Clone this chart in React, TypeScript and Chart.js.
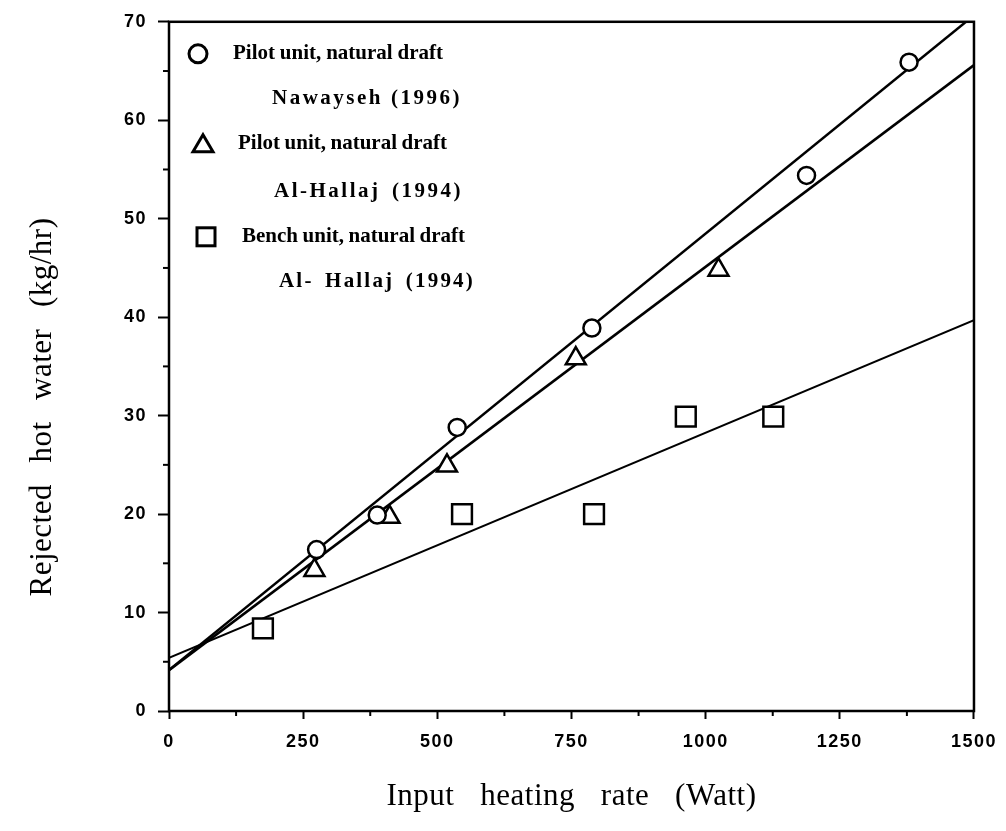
import React, { useEffect, useRef } from 'react';
import { Chart, registerables } from 'chart.js';

Chart.register(...registerables);

// ---- data ----
const nawaysehX = [275, 388, 537, 788, 1188, 1379];
const nawaysehY = [16.4, 19.9, 28.8, 38.9, 54.4, 65.9];

const hallajPilotX = [271, 411, 518, 758, 1024];
const hallajPilotY = [14.3, 19.7, 24.9, 35.8, 44.8];

const hallajBenchX = [175, 546, 792, 963, 1126];
const hallajBenchY = [8.4, 20.0, 20.0, 29.9, 29.9];

// fitted straight lines (end points at x = 0 and x = 1500)
const fitX = [0, 1500];
const fitNawaysehY = [4.15, 70.66];
const fitHallajPilotY = [4.15, 65.6];
const fitHallajBenchY = [5.4, 39.7];

const xTickLabels = [0, 250, 500, 750, 1000, 1250, 1500];
const yTickLabels = [0, 10, 20, 30, 40, 50, 60, 70];

const legendLines = [
  'Pilot unit, natural draft',
  'Nawayseh (1996)',
  'Pilot unit, natural draft',
  'Al-Hallaj (1994)',
  'Bench unit, natural draft',
  'Al- Hallaj (1994)',
];

const xTitle = 'Input heating rate (Watt)';
const yTitle = 'Rejected hot water (kg/hr)';

const toPoints = (xs: number[], ys: number[]) => xs.map((x, i) => ({ x, y: ys[i] }));

function fitText(ctx: CanvasRenderingContext2D, text: string, x: number, y: number, width: number, ls: number) {
  (ctx as any).letterSpacing = ls + 'px';
  (ctx as any).wordSpacing = '0px';
  const w = ctx.measureText(text).width;
  const gaps = (text.match(/ /g) || []).length;
  const ws = gaps ? (width - w) / gaps : 0;
  (ctx as any).wordSpacing = ws + 'px';
  ctx.fillText(text, x, y);
  (ctx as any).wordSpacing = '0px';
  (ctx as any).letterSpacing = '0px';
}

const decorPlugin = {
  id: 'decor',
  beforeDraw(chart: any) {
    (chart.ctx as any).letterSpacing = '1.5px';
  },
  beforeDatasetsDraw(chart: any) {
    (chart.ctx as any).letterSpacing = '0px';
  },
  afterDraw(chart: any) {
    const ctx: CanvasRenderingContext2D = chart.ctx;
    const a = chart.chartArea;
    ctx.save();
    (ctx as any).letterSpacing = '0px';
    // frame
    ctx.strokeStyle = '#000';
    ctx.lineWidth = 2.5;
    ctx.strokeRect(a.left, a.top, a.right - a.left, a.bottom - a.top);

    // minor ticks
    ctx.lineWidth = 2;
    const xs = chart.scales.x;
    const ys = chart.scales.y;
    xs.ticks.forEach((t: any) => {
      if (xTickLabels.includes(t.value)) return;
      const px = xs.getPixelForValue(t.value);
      ctx.beginPath();
      ctx.moveTo(px, a.bottom);
      ctx.lineTo(px, a.bottom + 5);
      ctx.stroke();
    });
    ys.ticks.forEach((t: any) => {
      if (yTickLabels.includes(t.value)) return;
      const py = ys.getPixelForValue(t.value);
      ctx.beginPath();
      ctx.moveTo(a.left, py);
      ctx.lineTo(a.left - 6, py);
      ctx.stroke();
    });

    // legend
    const L = a.left;
    const T = a.top;
    ctx.fillStyle = '#000';
    ctx.strokeStyle = '#000';
    ctx.lineWidth = 3;
    // circle
    ctx.beginPath();
    ctx.arc(L + 29, T + 32, 9, 0, Math.PI * 2);
    ctx.stroke();
    // triangle
    const tx = L + 34, ty = T + 122, tr = 10;
    ctx.beginPath();
    ctx.moveTo(tx, ty - tr * 0.9);
    ctx.lineTo(tx + tr, ty + tr * 0.8);
    ctx.lineTo(tx - tr, ty + tr * 0.8);
    ctx.closePath();
    ctx.stroke();
    // square
    ctx.strokeRect(L + 37 - 9, T + 215 - 9, 18, 18);

    ctx.font = 'bold 21px "Liberation Serif"';
    ctx.textBaseline = 'middle';
    ctx.textAlign = 'left';
    const rows = [
      { dx: 64, dy: 32, w: 210, ls: 0 },
      { dx: 103, dy: 77, w: 190, ls: 2.5 },
      { dx: 69, dy: 122, w: 209, ls: 0 },
      { dx: 105, dy: 170, w: 189, ls: 2.5 },
      { dx: 73, dy: 215, w: 223, ls: 0 },
      { dx: 110, dy: 260, w: 196, ls: 2.2 },
    ];
    legendLines.forEach((txt, i) => {
      const r = rows[i];
      fitText(ctx, txt, L + r.dx, T + r.dy, r.w, r.ls);
    });

    // axis titles
    ctx.font = '31px "Liberation Serif"';
    ctx.textAlign = 'center';
    ctx.textBaseline = 'middle';
    fitText(ctx, xTitle, (a.left + a.right) / 2, 797, 370, 0.5);
    ctx.save();
    ctx.translate(43, 407);
    ctx.rotate(-Math.PI / 2);
    fitText(ctx, yTitle, 0, 0, 379, 0.5);
    ctx.restore();
    ctx.restore();
  },
};

export default function App() {
  const ref = useRef<HTMLCanvasElement | null>(null);
  useEffect(() => {
    if (!ref.current) return;
    const tickFont = { family: '"Liberation Sans", Arial, sans-serif', size: 18, weight: 'bold' as const };
    const markerBase = {
      showLine: false,
      borderColor: '#000',
      backgroundColor: '#fff',
      borderWidth: 2.5,
      pointBorderWidth: 2.5,
      pointBackgroundColor: '#fff',
      pointBorderColor: '#000',
    };
    const lineBase = {
      showLine: true,
      pointRadius: 0,
      borderColor: '#000',
      backgroundColor: '#000',
      fill: false,
      tension: 0,
    };
    const chart = new Chart(ref.current, {
      type: 'scatter',
      data: {
        datasets: [
          { ...markerBase, label: 'Nawayseh', data: toPoints(nawaysehX, nawaysehY), pointStyle: 'circle', pointRadius: 8.5 },
          { ...markerBase, label: 'Al-Hallaj pilot', data: toPoints(hallajPilotX, hallajPilotY), pointStyle: 'triangle', pointRadius: 11.5 },
          { ...markerBase, label: 'Al-Hallaj bench', data: toPoints(hallajBenchX, hallajBenchY), pointStyle: 'rect', pointRadius: 14 },
          { ...lineBase, label: 'fit1', data: toPoints(fitX, fitNawaysehY), borderWidth: 2.5 },
          { ...lineBase, label: 'fit2', data: toPoints(fitX, fitHallajPilotY), borderWidth: 2.5 },
          { ...lineBase, label: 'fit3', data: toPoints(fitX, fitHallajBenchY), borderWidth: 2 },
        ],
      },
      options: {
        animation: false,
        responsive: false,
        events: [],
        layout: { padding: { left: 0, top: 20, right: 30, bottom: 0 } },
        plugins: { legend: { display: false }, tooltip: { enabled: false } },
        scales: {
          x: {
            type: 'linear',
            min: 0,
            max: 1500,
            border: { display: false },
            grid: {
              drawOnChartArea: false,
              drawTicks: true,
              tickLength: 8,
              tickWidth: 2,
              tickColor: (c: any) => (c.tick && xTickLabels.includes(c.tick.value) ? '#000' : 'rgba(0,0,0,0)'),
            },
            ticks: {
              stepSize: 125,
              autoSkip: false,
              maxRotation: 0,
              padding: 12,
              color: '#000',
              font: tickFont,
              callback: (v: any) => (xTickLabels.includes(Number(v)) ? String(v) : ''),
            },
            afterFit: (s: any) => {
              s.height = 120;
            },
          },
          y: {
            type: 'linear',
            min: 0,
            max: 70,
            border: { display: false },
            grid: {
              drawOnChartArea: false,
              drawTicks: true,
              tickLength: 11,
              tickWidth: 2,
              tickColor: (c: any) => (c.tick && yTickLabels.includes(c.tick.value) ? '#000' : 'rgba(0,0,0,0)'),
            },
            ticks: {
              stepSize: 5,
              autoSkip: false,
              padding: 11,
              color: '#000',
              font: tickFont,
              callback: (v: any) => (yTickLabels.includes(Number(v)) ? String(v) : ''),
            },
            afterFit: (s: any) => {
              s.width = 169;
            },
          },
        },
      },
      plugins: [decorPlugin],
    } as any);
    return () => chart.destroy();
  }, []);

  return (
    <div style={{ position: 'absolute', left: 0, top: 0, width: 1006, height: 831, background: '#fff' }}>
      <canvas ref={ref} width={1006} height={831} />
    </div>
  );
}
